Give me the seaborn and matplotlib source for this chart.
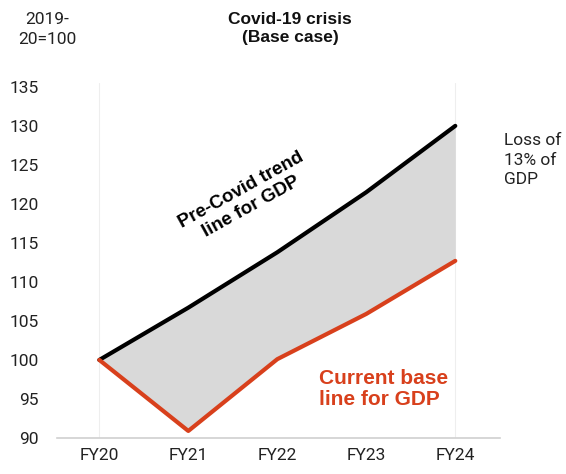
import matplotlib.pyplot as plt
import numpy as np
import pandas as pd
import seaborn as sns

years = ["FY20", "FY21", "FY22", "FY23", "FY24"]
pre_covid_trend = [100.0, 106.7, 113.8, 121.5, 130.0]
current_base = [100.0, 90.9, 100.1, 105.9, 112.7]
y_ticks = [90, 95, 100, 105, 110, 115, 120, 125, 130, 135]

RED = "#D8401C"
sns.set_theme(style="white")
plt.rcParams["font.family"] = ["Roboto", "DejaVu Sans"]

df = pd.DataFrame({"year": years, "x": np.arange(len(years)),
                   "trend": pre_covid_trend, "base": current_base})

fig = plt.figure(figsize=(5.66, 4.74), dpi=100)
ax = fig.add_axes([0.1, 0.076, 0.783, 0.749])

ax.fill_between(df["x"], df["base"], df["trend"], color="#D9D9D9", linewidth=0, zorder=1)
for xv in (df["x"].iloc[0], df["x"].iloc[-1]):
    ax.axvline(xv, color="#EEEEEE", linewidth=0.8, zorder=0)
sns.lineplot(data=df, x="x", y="trend", color="black", linewidth=3, ax=ax, zorder=3)
sns.lineplot(data=df, x="x", y="base", color=RED, linewidth=3, ax=ax, zorder=3)

ax.set_xlim(-0.48, 4.5)
ax.set_ylim(90, 135.5)
ax.set_xticks(df["x"])
ax.set_xticklabels(years)
ax.set_yticks(y_ticks)
ax.tick_params(axis="both", labelsize=12.5, colors="#222222", length=0, pad=7)
ax.tick_params(axis="y", pad=13)
ax.set_xlabel("")
ax.set_ylabel("")
for side in ("left", "right", "top"):
    ax.spines[side].set_visible(False)
ax.spines["bottom"].set_color("#D0D0D0")
ax.spines["bottom"].set_linewidth(1.2)

fig.text(0.083, 0.975, "2019-\n20=100", fontsize=12.5, ha="center", va="top",
         color="#222222", linespacing=1.4)
fig.text(0.513, 0.975, "Covid-19 crisis\n(Base case)", fontsize=12.5, ha="center", va="top",
         fontweight="bold", color="#111111", family=["Liberation Sans"], linespacing=1.3)
fig.text(0.891, 0.72, "Loss of\n13% of\nGDP", fontsize=12.5, ha="left", va="top",
         color="#222222", linespacing=1.4)

ax.text(1.65, 120.7, "Pre-Covid trend\nline for GDP", rotation=29, fontsize=13.5,
        fontweight="bold", family=["Liberation Sans"], color="black",
        ha="center", va="center", rotation_mode="anchor", linespacing=1.15)
ax.text(2.47, 96.3, "Current base\nline for GDP", fontsize=15, color=RED,
        fontweight="bold", family=["Liberation Sans"], ha="left", va="center",
        linespacing=1.1)

fig.savefig("out.png", dpi=100)
